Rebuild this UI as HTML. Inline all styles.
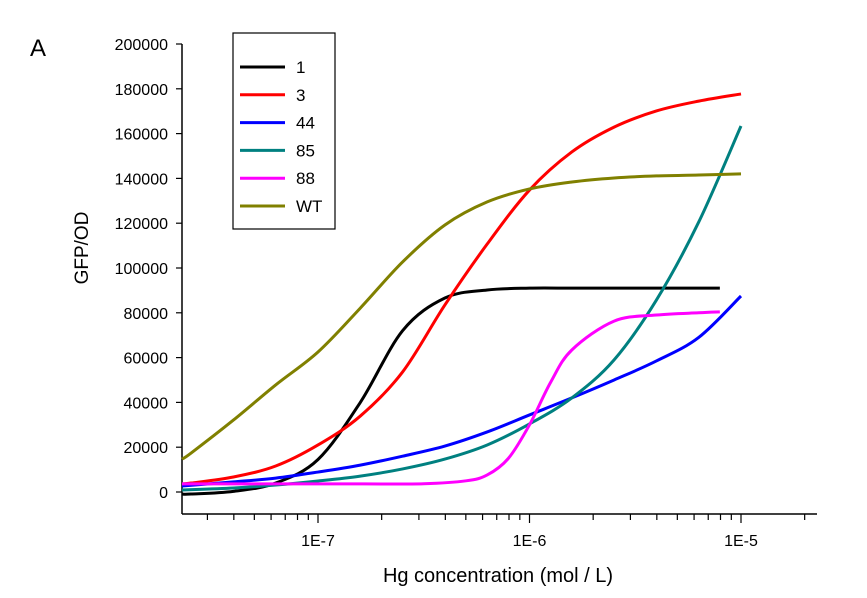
<!DOCTYPE html>
<html><head><meta charset="utf-8"><style>
body{margin:0;background:#fff;}
svg{display:block;font-family:"Liberation Sans",Arial,sans-serif;}
</style></head><body>
<svg id="chart" width="867" height="598">
<text x="30" y="56" font-size="24">A</text>
<g id="yaxis"></g>
<g id="xaxis"></g>
<g id="series"></g>
<text x="88" y="248" font-size="19" text-anchor="middle" transform="rotate(-90 88 248)">GFP/OD</text>
<text x="498" y="582" font-size="20" text-anchor="middle">Hg concentration (mol / L)</text>
<g id="legend"></g>
</svg>
<script>
const yTicks=[0,20000,40000,60000,80000,100000,120000,140000,160000,180000,200000];
const xDecades=[-7,-6,-5];
const xTickLabels=["1E-7","1E-6","1E-5"];
const seriesNames=["1","3","44","85","88","WT"];
const seriesColors=["#000000","#ff0000","#0000ff","#008080","#ff00ff","#808000"];
const xs1=[-7.65,-7.6,-7.4,-7.2,-7.0,-6.8,-6.6,-6.4,-6.2,-6.0,-5.8,-5.6,-5.4,-5.2,-5.1];
const s1=[-900,-900,300,4000,14500,40000,72000,86600,90200,91000,91000,91000,91000,91000,91000];
const xs3=[-7.65,-7.6,-7.4,-7.2,-7.0,-6.8,-6.6,-6.4,-6.2,-6.0,-5.8,-5.6,-5.4,-5.2,-5.0];
const s3=[3600,4000,6700,11600,21000,33900,53600,83500,110700,134800,151800,162900,170100,174500,177700];
const xs44=[-7.65,-7.4,-7.2,-7.0,-6.8,-6.6,-6.4,-6.2,-6.0,-5.8,-5.6,-5.4,-5.2,-5.0];
const s44=[2700,4500,6200,8900,12000,16000,20500,26800,34400,42000,50000,58500,69000,87500];
const xs85=[-7.65,-7.4,-7.2,-7.0,-6.8,-6.6,-6.4,-6.2,-6.0,-5.8,-5.6,-5.4,-5.2,-5.0];
const s85=[900,1800,3100,4900,7100,10300,14700,21000,30400,42000,59000,85700,120500,163400];
const xs88=[-7.65,-7.2,-6.8,-6.5,-6.3,-6.2,-6.1,-6.0,-5.9,-5.8,-5.6,-5.4,-5.2,-5.1];
const s88=[3600,3600,3600,3700,5000,7600,15000,30000,49000,63400,76300,79000,80000,80400];
const xsWT=[-7.65,-7.6,-7.4,-7.2,-7.0,-6.8,-6.6,-6.4,-6.2,-6.0,-5.8,-5.6,-5.4,-5.2,-5.0];
const sWT=[14700,17400,32100,47800,62500,82100,102700,119200,129500,135300,138400,140200,141100,141500,142000];
const allX=[xs1,xs3,xs44,xs85,xs88,xsWT], allY=[s1,s3,s44,s85,s88,sWT];

const NS="http://www.w3.org/2000/svg";
const L=182,R=817,B=514;
const xScale=lx=>318+(lx+7)*211.5;
const yScale=v=>492-v/200000*448;
function mk(tag,attrs,parent){const e=document.createElementNS(NS,tag);for(const k in attrs)e.setAttribute(k,attrs[k]);parent.appendChild(e);return e;}
const ya=document.getElementById('yaxis'),xa=document.getElementById('xaxis');
const yl=mk('line',{x1:L,y1:44,x2:L,y2:B,stroke:'#000','stroke-width':1.5},ya);


yTicks.forEach(v=>{
 const y=yScale(v);
 const t=mk('line',{x1:L-6,y1:y,x2:L,y2:y,stroke:'#000','stroke-width':1.2},ya);
 
 
 const tx=mk('text',{x:L-14,y:y+6,'font-size':16,'text-anchor':'end'},ya);
 tx.textContent=v;
 
 
});
const xl=mk('line',{x1:L,y1:B,x2:R,y2:B,stroke:'#000','stroke-width':1.5},xa);


for(let d=-8;d<=-5;d++){for(let m=1;m<=9;m++){
 const lx=d+Math.log10(m);const x=xScale(lx);
 if(x<L+2||x>R)continue;
 const major=(m===1);
 const t=mk('line',{x1:x,y1:B,x2:x,y2:B+(major?9:6),stroke:'#000','stroke-width':1.2},xa);
 
 
}}
xDecades.forEach((d,i)=>{
 const tx=mk('text',{x:xScale(d),y:B+32,'font-size':16,'text-anchor':'middle'},xa);
 tx.textContent=xTickLabels[i];
 
 
});
function smoothPath(p){
 let d=`M${p[0][0]},${p[0][1]}`;
 for(let i=0;i<p.length-1;i++){
  const p0=p[i-1]||p[i],p1=p[i],p2=p[i+1],p3=p[i+2]||p2;
  const c1=[p1[0]+(p2[0]-p0[0])/6,p1[1]+(p2[1]-p0[1])/6];
  const c2=[p2[0]-(p3[0]-p1[0])/6,p2[1]-(p3[1]-p1[1])/6];
  d+=` C${c1[0]},${c1[1]} ${c2[0]},${c2[1]} ${p2[0]},${p2[1]}`;
 }
 return d;
}
const sg=document.getElementById('series');
seriesNames.forEach((n,i)=>{
 const pts=allX[i].map((lx,j)=>[Math.max(L,xScale(lx)),yScale(allY[i][j])]);
 const p=mk('path',{d:smoothPath(pts),fill:'none',stroke:seriesColors[i],'stroke-width':3},sg);
 
 
});
const lg=document.getElementById('legend');
const box=mk('rect',{x:233,y:33,width:102,height:196,fill:'#fff',stroke:'#000','stroke-width':1.2},lg);


seriesNames.forEach((n,i)=>{
 const y=67+i*27.8;
 const g=mk('g',{},lg);
 
 
 mk('line',{x1:240,y1:y,x2:285,y2:y,stroke:seriesColors[i],'stroke-width':3},g);
 const t=mk('text',{x:296,y:y+6,'font-size':17},g);
 t.textContent=n;
});
</script>
</body></html>
